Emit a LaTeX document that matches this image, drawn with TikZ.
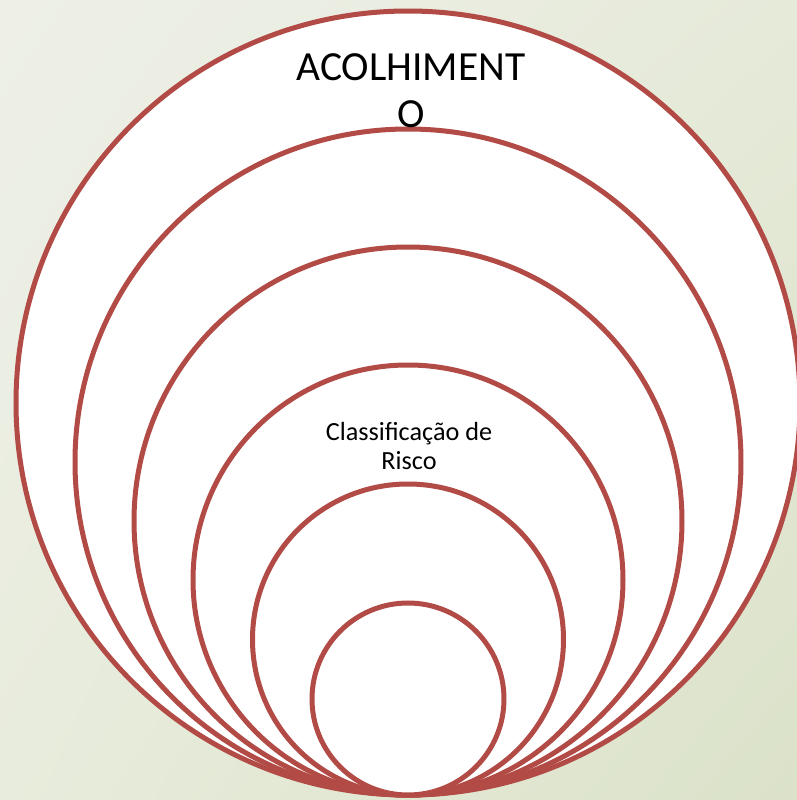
\documentclass[tikz,border=0pt]{standalone}
\usepackage{fontspec}
\setmainfont{Carlito}
\usetikzlibrary{shadings}
\definecolor{ringred}{HTML}{B24A46}
\definecolor{bgtl}{HTML}{EEF0E8}
\definecolor{bgtr}{HTML}{E6EAD9}
\definecolor{bgbl}{HTML}{E8ECDC}
\definecolor{bgbr}{HTML}{DBE2C9}
\tikzset{
	ring/.style={draw=ringred, fill=white, line width=2.5pt},
	ringtext/.style={align=center, inner sep=0pt, text=black}
}
\begin{document}
\begin{tikzpicture}[x=0.5pt, y=0.5pt]
	\useasboundingbox (0,0) rectangle (797,800);
	\shade[upper left=bgtl, upper right=bgtr, lower left=bgbl, lower right=bgbr] (0,0) rectangle (797,800);

	\filldraw[ring](408,397) circle (392);
	\filldraw[ring](408,338) circle (333);
	\filldraw[ring](408,279) circle (274);
	\filldraw[ring](408,220) circle (215);
	\filldraw[ring](408,160.5) circle (155.5);
	\filldraw[ring](408,101) circle (96);

	\node[ringtext, font=\fontsize{20.7}{23.5}\selectfont] (acolhimento) at (411,709){ACOLHIMENT\\O};
	\node[ringtext, font=\fontsize{13.1}{14.5}\selectfont] (risco) at (409,354){Classificação de\\Risco};
\end{tikzpicture}
\end{document}
